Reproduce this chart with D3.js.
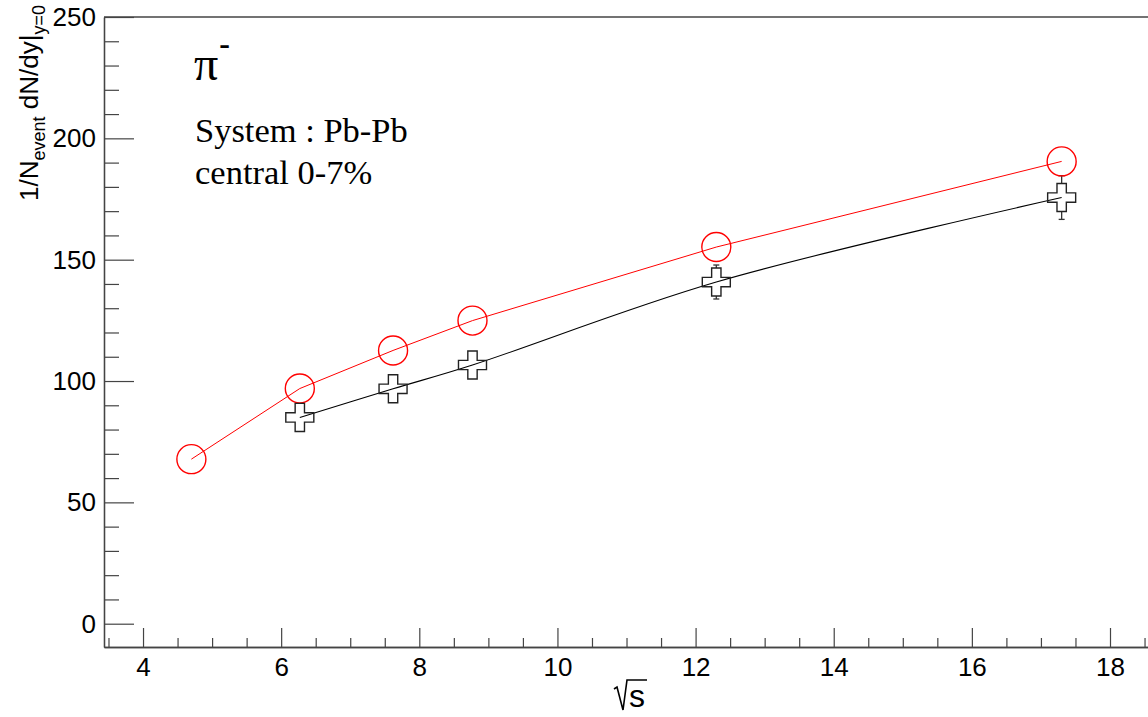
<!DOCTYPE html>
<html>
<head>
<meta charset="utf-8">
<script src="https://cdn.jsdelivr.net/npm/d3@7"></script>
<style>
  body { margin: 0; background: #fff; }
  svg { display: block; }
</style>
</head>
<body>
<svg id="chart" width="1148" height="717"></svg>
<script>
// ---- data ----
const redX = [4.7, 6.27, 7.62, 8.77, 12.3, 17.3];
const redY = [67.8, 96.9, 112.6, 124.9, 155.2, 190.5];
const blackX = [6.27, 7.62, 8.77, 12.3, 17.3];
const blackY = [85.0, 96.8, 106.6, 140.8, 175.6];
const blackErr = [4, 4, 4, 7, 9];
const xMajorTicks = [4, 6, 8, 10, 12, 14, 16, 18];
const yMajorTicks = [0, 50, 100, 150, 200, 250];

(function () {
const svg = d3.select("#chart");
const sans = "Liberation Sans, Arial, sans-serif";
const serif = "Liberation Serif, Times New Roman, serif";
const padL = 104, padB = 647, padT = 17;
const x = d3.scaleLinear().domain([3.435, 18.6]).range([padL, padL + (18.6 - 3.435) * 69.07]);
const y = d3.scaleLinear().domain([-9.6, 250]).range([padB, padT]);

const axisColor = "#444";

// minor ticks
const xMinor = d3.range(3.5, 18.6, 0.5).filter(v => !xMajorTicks.includes(v));
const yMinor = d3.range(0, 250, 10).filter(v => !yMajorTicks.includes(v));

const gxMinor = svg.append("g").attr("transform", `translate(0,${padB})`)
  .call(d3.axisBottom(x).tickValues(xMinor).tickSize(-9).tickSizeOuter(0).tickFormat(""));
const gx = svg.append("g").attr("transform", `translate(0,${padB})`)
  .call(d3.axisBottom(x).tickValues(xMajorTicks).tickSize(-19).tickSizeOuter(0).tickPadding(11).tickFormat(d3.format("d")));
const gyMinor = svg.append("g").attr("transform", `translate(${padL},0)`)
  .call(d3.axisLeft(y).tickValues(yMinor).tickSize(-15).tickSizeOuter(0).tickFormat(""));
const gy = svg.append("g").attr("transform", `translate(${padL},0)`)
  .call(d3.axisLeft(y).tickValues(yMajorTicks).tickSize(-30).tickSizeOuter(0).tickPadding(8).tickFormat(d3.format("d")));

[gxMinor, gx, gyMinor, gy].forEach(g => {
  g.selectAll("path.domain").attr("stroke", axisColor).attr("stroke-width", 1.3);
  g.selectAll("line").attr("stroke", axisColor).attr("stroke-width", 1.2);
  g.selectAll("text").attr("fill", "#000").style("font-size", "26px").style("font-family", sans);
});

// top frame line
svg.append("line").attr("x1", padL).attr("x2", 1148).attr("y1", padT).attr("y2", padT)
  .attr("stroke", axisColor).attr("stroke-width", 1.3);

// ---- lines ----
const redLine = d3.line().x(d => x(d[0])).y(d => y(d[1]));
svg.append("path").datum(redX.map((v, i) => [v, redY[i]]))
  .attr("d", redLine).attr("fill", "none").attr("stroke", "#ff0000").attr("stroke-width", 1);

const blackLine = d3.line().x(d => x(d[0])).y(d => y(d[1])).curve(d3.curveCatmullRom.alpha(0.5));
svg.append("path").datum(blackX.map((v, i) => [v, blackY[i]]))
  .attr("d", blackLine).attr("fill", "none").attr("stroke", "#000").attr("stroke-width", 1.1);

// ---- error bars (outside marker) ----
const half = 14;
blackX.forEach((v, i) => {
  const cx = x(v), cy = y(blackY[i]);
  const yt = y(blackY[i] + blackErr[i]), yb = y(blackY[i] - blackErr[i]);
  const g = svg.append("g").attr("stroke", "#333").attr("stroke-width", 1.3);
  if (yt < cy - half) {
    g.append("line").attr("x1", cx).attr("x2", cx).attr("y1", yt).attr("y2", cy - half);
    g.append("line").attr("x1", cx - 3).attr("x2", cx + 3).attr("y1", yt).attr("y2", yt);
  }
  if (yb > cy + half) {
    g.append("line").attr("x1", cx).attr("x2", cx).attr("y1", cy + half).attr("y2", yb);
    g.append("line").attr("x1", cx - 3).attr("x2", cx + 3).attr("y1", yb).attr("y2", yb);
  }
});

// ---- markers ----
svg.append("g").selectAll("circle").data(redX).join("circle")
  .attr("cx", d => x(d)).attr("cy", (d, i) => y(redY[i])).attr("r", 14.5)
  .attr("fill", "none").attr("stroke", "#ff0000").attr("stroke-width", 1.4);

const cross = d3.symbol().type(d3.symbolCross).size(436);
svg.append("g").selectAll("path").data(blackX).join("path")
  .attr("transform", (d, i) => `translate(${x(d)},${y(blackY[i])})`)
  .attr("d", cross).attr("fill", "none").attr("stroke", "#222").attr("stroke-width", 1.4);

// ---- texts ----
const piT = svg.append("text").attr("x", 194).attr("y", 80)
  .style("font-family", serif).style("font-size", "48px");
piT.append("tspan").text("π");
piT.append("tspan").style("font-size", "32px").style("font-weight", "bold").attr("dy", -26).attr("dx", 1).text("-");

svg.append("text").attr("x", 195).attr("y", 142)
  .style("font-family", serif).style("font-size", "34.5px")
  .text("System : Pb-Pb");
svg.append("text").attr("x", 195).attr("y", 184)
  .style("font-family", serif).style("font-size", "34.5px")
  .text("central 0-7%");

// y title
const ytl = svg.append("text").attr("transform", "translate(38,5) rotate(-90)")
  .attr("text-anchor", "end").style("font-family", sans).style("font-size", "26px");
ytl.append("tspan").text("1/N");
ytl.append("tspan").style("font-size", "18px").attr("dy", 7).text("event");
ytl.append("tspan").attr("dy", -7).text(" dN/dy");
ytl.append("tspan").text("|");
ytl.append("tspan").style("font-size", "18px").attr("dy", 7).text("y=0");

// x title: sqrt(s)
const sx = 629, sy = 707;
svg.append("text").attr("x", sx).attr("y", sy)
  .style("font-family", sans).style("font-size", "32px").text("s");
svg.append("path")
  .attr("d", `M${sx - 15},${sy - 18} L${sx - 12},${sy - 20} L${sx - 6},${sy + 3} L${sx - 2},${sy - 27} L${sx + 18},${sy - 27}`)
  .attr("fill", "none").attr("stroke", "#000").attr("stroke-width", 1.6);
})();
</script>
</body>
</html>
